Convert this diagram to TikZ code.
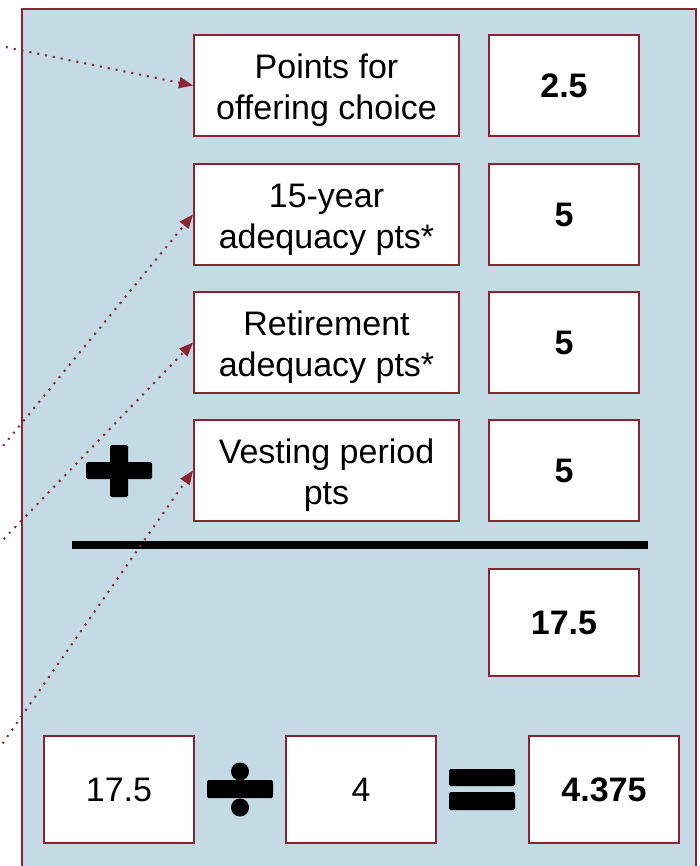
\documentclass[tikz,border=0pt]{standalone}
\usepackage{fontspec}
\setmainfont{Liberation Sans}
\usetikzlibrary{arrows.meta}
\definecolor{panelblue}{RGB}{196,218,228}
\definecolor{maroon}{RGB}{139,35,50}
\begin{document}
\begin{tikzpicture}[x=1pt,y=-1pt,
  labelbox/.style={draw=maroon, line width=2pt, fill=white, minimum width=265pt, minimum height=101pt, inner sep=0pt},
  labeltext/.style={align=center, inner sep=0pt, yshift=-5pt, font=\fontsize{34}{41}\selectfont},
  valbox/.style={draw=maroon, line width=2pt, fill=white, minimum width=150pt, minimum height=101pt, inner sep=0pt, font=\fontsize{34}{40}\selectfont\bfseries},
  resbox/.style={draw=maroon, line width=2pt, fill=white, minimum width=150pt, minimum height=107pt, inner sep=0pt, font=\fontsize{34}{40}\selectfont},
  ptr/.style={draw=maroon, line width=2pt, dash pattern=on 2pt off 6pt, -{Triangle[length=14pt,width=11pt]}},
  symb/.style={fill=black, rounded corners=1.5pt},
  ]
\useasboundingbox (0,0) rectangle (700,866);
\clip (0,0) rectangle (700,866);
% panel
\draw[maroon, line width=2.5pt, fill=panelblue] (22,9) rectangle (696,900);
% rows
\node[labelbox] (l1) at (326.5,85.5) {};
\node[labelbox] (l2) at (326.5,214.5) {};
\node[labelbox] (l3) at (326.5,342.5) {};
\node[labelbox] (l4) at (326.5,470.5) {};
\node[labeltext] (t1) at (l1) {Points for\\offering choice};
\node[labeltext] (t2) at (l2) {15-year\\adequacy pts*};
\node[labeltext] (t3) at (l3) {Retirement\\adequacy pts*};
\node[labeltext] (t4) at (l4) {Vesting period\\pts};
\node[valbox] (v1) at (564,85.5) {2.5};
\node[valbox] (v2) at (564,214.5) {5};
\node[valbox] (v3) at (564,342.5) {5};
\node[valbox] (v4) at (564,470.5) {5};
% plus
\fill[symb] (110,445) rectangle (128,497);
\fill[symb] (86,462) rectangle (152,479);
% sum line
\fill (72,541) rectangle (648,549);
% total
\node[valbox, minimum height=107pt] (tot) at (564,622.5) {17.5};
% bottom
\node[resbox] (ba) at (119,789.5) {17.5};
\node[resbox] (bb) at (361,789.5) {4};
\node[resbox, font=\fontsize{34}{40}\selectfont\bfseries] (bc) at (604,789.5) {4.375};
% divide
\fill[symb] (207,780) rectangle (273,798);
\fill (240,771.5) circle (9);
\fill (240,807.5) circle (9);
% equals
\fill[symb] (449,769) rectangle (515,786);
\fill[symb] (449,792) rectangle (515,810);
% pointers
\coordinate (s1) at (-2,45.5);
\coordinate (s2) at (-2,452);
\coordinate (s3) at (-2,545);
\coordinate (s4) at (-2,750);
\draw[ptr] (s1) -- (l1.west);
\draw[ptr] (s2) -- (l2.west);
\draw[ptr] (s3) -- (l3.west);
\draw[ptr] (s4) -- (l4.west);
\end{tikzpicture}
\end{document}
